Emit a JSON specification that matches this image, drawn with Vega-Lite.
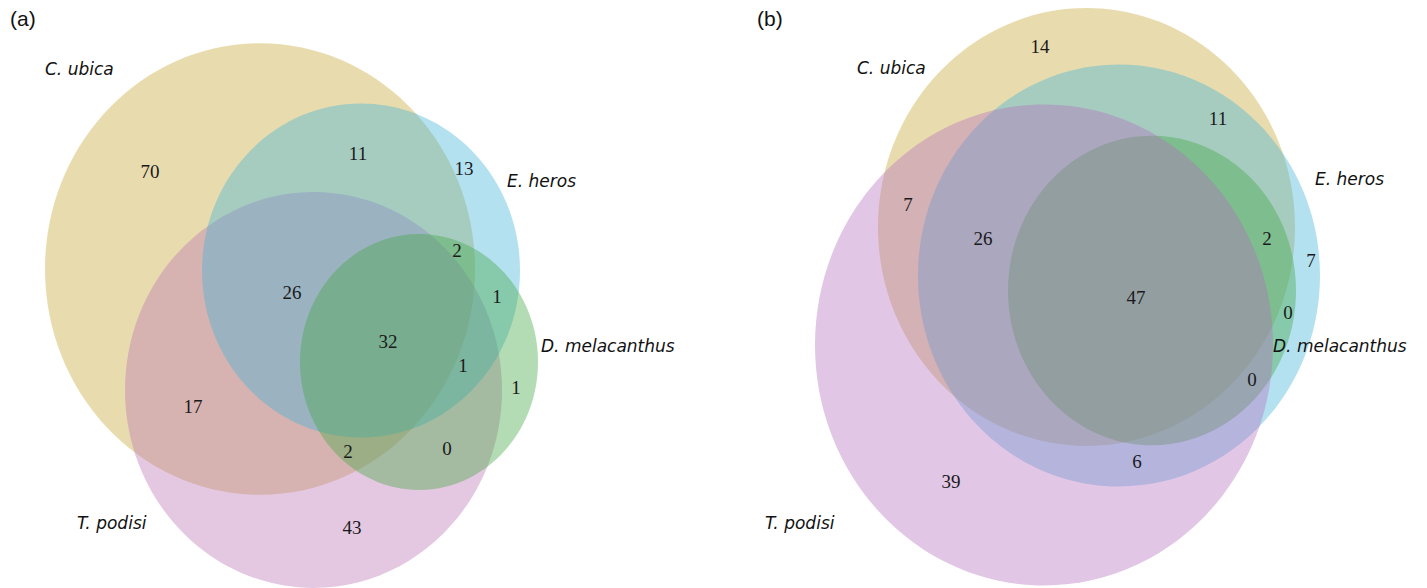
{
  "$schema": "https://vega.github.io/schema/vega-lite/v6.json",
  "width": 1427,
  "height": 588,
  "padding": 0,
  "autosize": {"type": "none"},
  "background": "white",
  "config": {"view": {"stroke": null}},
  "datasets": {
    "ellipses": [
      {"panel": "a", "set": "C. ubica", "cx": 260, "cy": 269, "rx": 215},
      {"panel": "a", "set": "T. podisi", "cx": 313.5, "cy": 390, "rx": 188.5},
      {"panel": "a", "set": "E. heros", "cx": 361, "cy": 270.5, "rx": 159},
      {"panel": "a", "set": "D. melacanthus", "cx": 419, "cy": 362, "rx": 119},
      {"panel": "b", "set": "C. ubica", "cx": 1086.5, "cy": 227, "rx": 208.5},
      {"panel": "b", "set": "E. heros", "cx": 1119, "cy": 275.5, "rx": 201},
      {"panel": "b", "set": "D. melacanthus", "cx": 1152, "cy": 290.5, "rx": 144},
      {"panel": "b", "set": "T. podisi", "cx": 1044, "cy": 345, "rx": 229}
    ],
    "counts": [
      {"panel": "a", "x": 150, "y": 172, "n": "70"},
      {"panel": "a", "x": 358, "y": 154, "n": "11"},
      {"panel": "a", "x": 464, "y": 169, "n": "13"},
      {"panel": "a", "x": 457, "y": 251, "n": "2"},
      {"panel": "a", "x": 497, "y": 297, "n": "1"},
      {"panel": "a", "x": 292, "y": 293, "n": "26"},
      {"panel": "a", "x": 388, "y": 342, "n": "32"},
      {"panel": "a", "x": 463, "y": 366, "n": "1"},
      {"panel": "a", "x": 193, "y": 407, "n": "17"},
      {"panel": "a", "x": 348, "y": 452, "n": "2"},
      {"panel": "a", "x": 447, "y": 449, "n": "0"},
      {"panel": "a", "x": 516, "y": 388, "n": "1"},
      {"panel": "a", "x": 352, "y": 528, "n": "43"},
      {"panel": "b", "x": 1040, "y": 47, "n": "14"},
      {"panel": "b", "x": 908, "y": 205, "n": "7"},
      {"panel": "b", "x": 983, "y": 239, "n": "26"},
      {"panel": "b", "x": 1218, "y": 119, "n": "11"},
      {"panel": "b", "x": 1267, "y": 239, "n": "2"},
      {"panel": "b", "x": 1311, "y": 261, "n": "7"},
      {"panel": "b", "x": 1136, "y": 298, "n": "47"},
      {"panel": "b", "x": 1288, "y": 313, "n": "0"},
      {"panel": "b", "x": 1252, "y": 380, "n": "0"},
      {"panel": "b", "x": 1137, "y": 462, "n": "6"},
      {"panel": "b", "x": 951, "y": 482, "n": "39"}
    ],
    "species": [
      {"x": 45, "y": 70, "label": "C. ubica"},
      {"x": 507, "y": 182, "label": "E. heros"},
      {"x": 541, "y": 347, "label": "D. melacanthus"},
      {"x": 77, "y": 524, "label": "T. podisi"},
      {"x": 857, "y": 69, "label": "C. ubica"},
      {"x": 1315, "y": 180, "label": "E. heros"},
      {"x": 1273, "y": 347, "label": "D. melacanthus"},
      {"x": 765, "y": 524, "label": "T. podisi"}
    ],
    "panels": [
      {"x": 10, "y": 20, "label": "(a)"},
      {"x": 757, "y": 20, "label": "(b)"}
    ]
  },
  "layer": [
    {
      "data": {"name": "ellipses"},
      "transform": [{"filter": "datum.panel === 'a'"}],
      "mark": {"type": "point", "filled": true, "opacity": 0.4, "strokeWidth": 0},
      "encoding": {
        "x": {"field": "cx", "type": "quantitative", "scale": {"domain": [0, 1427], "nice": false, "zero": false}, "axis": null},
        "y": {"field": "cy", "type": "quantitative", "scale": {"domain": [0, 588], "nice": false, "zero": false, "reverse": true}, "axis": null},
        "size": {"field": "rx", "type": "quantitative", "scale": {"type": "pow", "exponent": 2, "domain": [0, 250], "range": [0, 250000], "nice": false}, "legend": null},
        "color": {"field": "set", "type": "nominal", "scale": {"domain": ["C. ubica", "E. heros", "T. podisi", "D. melacanthus"], "range": ["#C5A737", "#43B4D9", "#BB75B4", "#43A743"]}, "legend": null},
        "shape": {"field": "set", "type": "nominal", "scale": {"domain": ["C. ubica", "E. heros", "T. podisi", "D. melacanthus"], "range": [
          "M1,0C1,0.58 0.552,1.05 0,1.05C-0.552,1.05 -1,0.58 -1,0C-1,-0.58 -0.552,-1.05 0,-1.05C0.552,-1.05 1,-0.58 1,0Z",
          "M1,0C1,0.58 0.552,1.05 0,1.05C-0.552,1.05 -1,0.58 -1,0C-1,-0.58 -0.552,-1.05 0,-1.05C0.552,-1.05 1,-0.58 1,0Z",
          "M1,0C1,0.58 0.552,1.05 0,1.05C-0.552,1.05 -1,0.58 -1,0C-1,-0.58 -0.552,-1.05 0,-1.05C0.552,-1.05 1,-0.58 1,0Z",
          "M1,0C1,0.594 0.552,1.075 0,1.075C-0.552,1.075 -1,0.594 -1,0C-1,-0.594 -0.552,-1.075 0,-1.075C0.552,-1.075 1,-0.594 1,0Z"
        ]}, "legend": null}
      }
    },
    {
      "data": {"name": "ellipses"},
      "transform": [{"filter": "datum.panel === 'b'"}],
      "mark": {"type": "point", "filled": true, "opacity": 0.4, "strokeWidth": 0},
      "encoding": {
        "x": {"field": "cx", "type": "quantitative"},
        "y": {"field": "cy", "type": "quantitative"},
        "size": {"field": "rx", "type": "quantitative"},
        "fill": {"field": "set", "type": "nominal", "scale": {"domain": ["C. ubica", "E. heros", "T. podisi", "D. melacanthus"], "range": ["#C5A737", "#43B4D9", "#B470BE", "#43A743"]}, "legend": null},
        "shape": {"field": "set", "type": "nominal"}
      }
    },
    {
      "data": {"name": "counts"},
      "mark": {"type": "text", "font": "Liberation Serif", "fontSize": 19, "align": "center", "baseline": "middle", "color": "#1a1a1a"},
      "encoding": {
        "x": {"field": "x", "type": "quantitative"},
        "y": {"field": "y", "type": "quantitative"},
        "text": {"field": "n"}
      }
    },
    {
      "data": {"name": "species"},
      "mark": {"type": "text", "font": "DejaVu Sans", "fontStyle": "italic", "fontSize": 17, "align": "left", "baseline": "middle", "color": "#111111"},
      "encoding": {
        "x": {"field": "x", "type": "quantitative"},
        "y": {"field": "y", "type": "quantitative"},
        "text": {"field": "label"}
      }
    },
    {
      "data": {"name": "panels"},
      "mark": {"type": "text", "font": "Liberation Sans", "fontSize": 21, "align": "left", "baseline": "middle", "color": "#111111"},
      "encoding": {
        "x": {"field": "x", "type": "quantitative"},
        "y": {"field": "y", "type": "quantitative"},
        "text": {"field": "label"}
      }
    }
  ]
}
